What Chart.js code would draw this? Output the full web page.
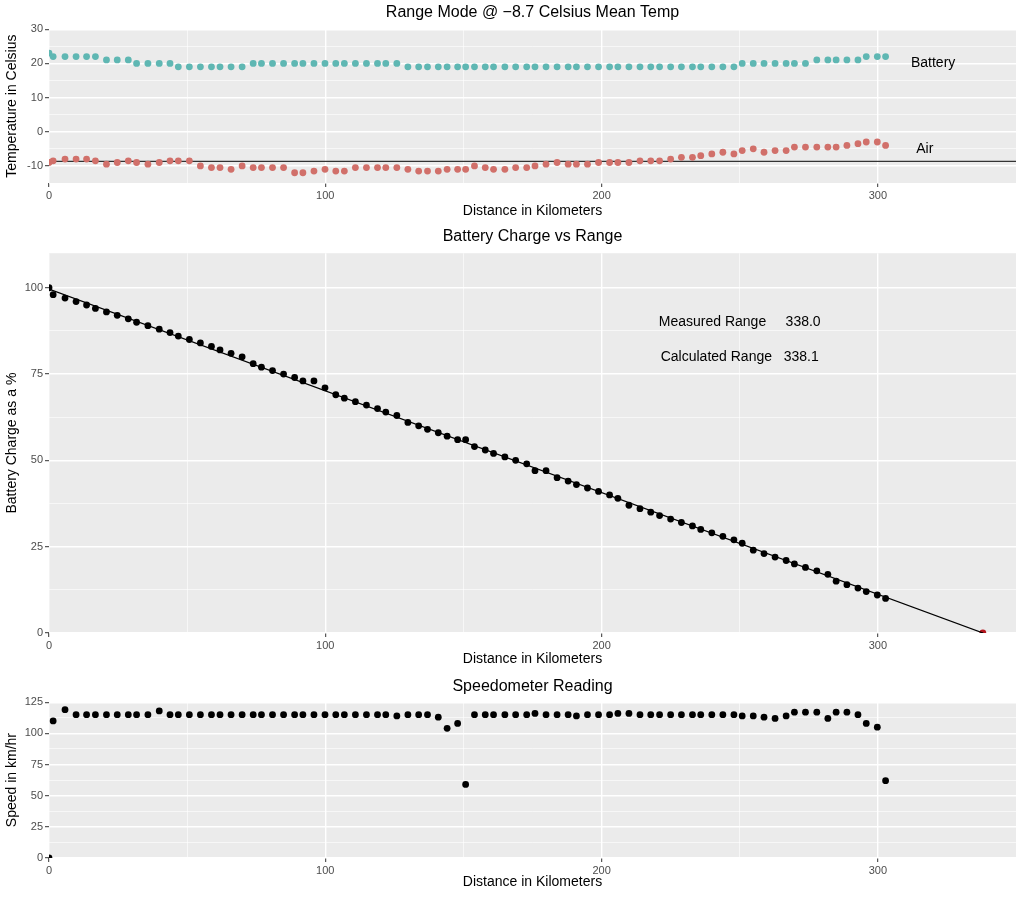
<!DOCTYPE html>
<html>
<head>
<meta charset="utf-8">
<title>Range Mode @ -8.7 Celsius Mean Temp</title>
<script src="https://cdn.jsdelivr.net/npm/chart.js@4.4.1/dist/chart.umd.min.js"></script>
<style>
  html, body { margin: 0; padding: 0; background: #ffffff; }
  .panel { position: absolute; left: 0; width: 1024px; }
</style>
</head>
<body>
<div class="panel" style="top:0;height:222px"><canvas id="chart1"></canvas></div>
<div class="panel" style="top:222px;height:448px"><canvas id="chart2"></canvas></div>
<div class="panel" style="top:670px;height:229px"><canvas id="chart3"></canvas></div>
<script>
// Distancia recorrida en cada lectura (km)
const distanceKm = [
  0, 1.5, 5.8, 9.8, 13.6, 16.8, 20.8, 24.7, 28.7, 31.7,
  35.8, 39.9, 43.8, 46.8, 50.8, 54.8, 58.8, 61.9, 65.9, 69.9,
  73.9, 76.9, 80.9, 84.9, 88.9, 91.9, 95.9, 99.9, 103.8, 106.9,
  110.9, 114.9, 118.9, 121.9, 125.9, 129.9, 133.8, 137, 140.9, 144.1,
  147.9, 150.8, 154, 157.9, 160.9, 165, 168.9, 172.9, 175.9, 179.9,
  183.9, 187.9, 190.9, 194.9, 198.9, 202.9, 205.9, 209.9, 213.9, 217.8,
  221, 225, 228.9, 232.9, 235.9, 239.9, 243.9, 247.9, 250.9, 254.9,
  258.8, 262.8, 266.8, 269.8, 273.8, 277.9, 281.9, 284.9, 288.8, 292.8,
  295.8, 299.8, 302.8,
];

// Temperatura de la bateria (C)
const batteryTemp = [
  23, 22, 22, 22, 22, 22, 21, 21, 21, 20,
  20, 20, 20, 19, 19, 19, 19, 19, 19, 19,
  20, 20, 20, 20, 20, 20, 20, 20, 20, 20,
  20, 20, 20, 20, 20, 19, 19, 19, 19, 19,
  19, 19, 19, 19, 19, 19, 19, 19, 19, 19,
  19, 19, 19, 19, 19, 19, 19, 19, 19, 19,
  19, 19, 19, 19, 19, 19, 19, 19, 20, 20,
  20, 20, 20, 20, 20, 21, 21, 21, 21, 21,
  22, 22, 22,
];

// Temperatura del aire (C)
const airTemp = [
  -9, -8.5, -8, -8, -8, -8.5, -9.5, -9, -8.5, -9,
  -9.5, -9, -8.5, -8.5, -8.5, -10, -10.5, -10.5, -11, -10,
  -10.5, -10.5, -10.5, -10.5, -12, -12, -11.5, -11, -11.5, -11.5,
  -10.5, -10.5, -10.5, -10.5, -10.5, -11, -11.5, -11.5, -11.5, -11,
  -11, -11, -10, -10.5, -11, -11, -10.5, -10.5, -10, -9.5,
  -9, -9.5, -9.5, -9.5, -9, -9, -9, -9, -8.5, -8.5,
  -8.5, -8, -7.5, -7.5, -7, -6.5, -6, -6.5, -5.5, -5,
  -6, -5.5, -5.5, -4.5, -4.5, -4.5, -4.5, -4.5, -4, -3.5,
  -3, -3, -4,
];
const meanAirTemp = -8.7;

// Carga de la bateria (%)
const chargePct = [
  100, 98, 97, 96, 95, 94, 93, 92, 91, 90,
  89, 88, 87, 86, 85, 84, 83, 82, 81, 80,
  78, 77, 76, 75, 74, 73, 73, 71, 69, 68,
  67, 66, 65, 64, 63, 61, 60, 59, 58, 57,
  56, 56, 54, 53, 52, 51, 50, 49, 47, 47,
  45, 44, 43, 42, 41, 40, 39, 37, 36, 35,
  34, 33, 32, 31, 30, 29, 28, 27, 26, 24,
  23, 22, 21, 20, 19, 18, 17, 15, 14, 13,
  12, 11, 10,
];
// Recta ajustada y rango medido
const fitX = [0, 338.1];
const fitY = [99.6, 0];
const measuredRange = 338.0;

// Velocimetro (km/h)
const speedKmh = [
  0, 110, 119, 115, 115, 115, 115, 115, 115, 115,
  115, 118, 115, 115, 115, 115, 115, 115, 115, 115,
  115, 115, 115, 115, 115, 115, 115, 115, 115, 115,
  115, 115, 115, 115, 114, 115, 115, 115, 113, 104,
  108, 59, 115, 115, 115, 115, 115, 115, 116, 115,
  115, 115, 114, 115, 115, 115, 116, 116, 115, 115,
  115, 115, 115, 115, 115, 115, 115, 115, 114, 114,
  113, 112, 114, 117, 117, 117, 112, 117, 117, 115,
  108, 105, 62,
];

// Etiquetas de los ejes
const distTicks = [0, 100, 200, 300];
const distMinor = [50, 150, 250];
const tempTicks = [-10, 0, 10, 20, 30];
const tempMinor = [-15, -5, 5, 15, 25];
const chargeTicks = [0, 25, 50, 75, 100];
const chargeMinor = [12.5, 37.5, 62.5, 87.5];
const speedTicks = [0, 25, 50, 75, 100, 125];
const speedMinor = [12.5, 37.5, 62.5, 87.5, 112.5];

// Textos dentro de los paneles
const tempLabels = ["Battery", "Air"];
const tempLabelX = [320, 317];
const tempLabelY = [20, -5];
const rangeLabels = ["Measured Range     338.0", "Calculated Range   338.1"];
const rangeLabelX = [250, 250];
const rangeLabelY = [90, 80];

const FONT = "'Liberation Sans', Arial, Helvetica, sans-serif";
Chart.defaults.font.family = FONT;
Chart.defaults.animation = false;

function puntos(xs, ys) {
  return xs.map((x, i) => ({ x: x, y: ys[i] }));
}

// Marcas mayores y menores como en ggplot
function setTicks(major, minor) {
  return function (scale) {
    const all = major
      .map((v) => ({ value: v }))
      .concat(minor.map((v) => ({ value: v, minor: true })));
    all.sort((a, b) => a.value - b.value);
    scale.ticks = all;
  };
}

function gridOpts() {
  return {
    color: (c) => (c.tick && c.tick.minor ? "rgba(255,255,255,0.85)" : "#ffffff"),
    lineWidth: (c) => (c.tick && c.tick.minor ? 0.7 : 1.4),
    tickColor: (c) => (c.tick && c.tick.minor ? "rgba(0,0,0,0)" : "#333333"),
    tickWidth: 1,
    tickLength: 4,
    drawTicks: true,
  };
}

function tickOpts() {
  return {
    autoSkip: false,
    maxRotation: 0,
    padding: 2,
    color: "#4d4d4d",
    font: { size: 11 },
    callback: (value, i, ticks) => (ticks[i].minor ? "" : value),
  };
}

function ejeX(height, titlePad) {
  return {
    type: "linear",
    min: 0,
    max: 350,
    afterBuildTicks: setTicks(distTicks, distMinor),
    afterFit: (scale) => { scale.height = height; },
    grid: gridOpts(),
    border: { display: false },
    ticks: tickOpts(),
    title: {
      display: true,
      text: "Distance in Kilometers",
      color: "#000",
      font: { size: 14 },
      padding: { top: 0, bottom: titlePad },
    },
  };
}

function ejeY(min, max, major, minor, label) {
  return {
    type: "linear",
    min: min,
    max: max,
    afterBuildTicks: setTicks(major, minor),
    afterFit: (scale) => { scale.width = 49; },
    grid: gridOpts(),
    border: { display: false },
    ticks: tickOpts(),
    title: {
      display: true,
      text: label,
      color: "#000",
      font: { size: 14 },
      padding: { top: 4, bottom: 0 },
    },
  };
}

// Fondo gris del panel y textos en coordenadas de datos
function panelPlugin(textos, xs, ys) {
  return {
    id: "panel",
    beforeDraw(chart) {
      const a = chart.chartArea;
      const ctx = chart.ctx;
      ctx.save();
      ctx.fillStyle = "#ebebeb";
      ctx.fillRect(a.left, a.top, a.right - a.left, a.bottom - a.top);
      ctx.restore();
    },
    afterDatasetsDraw(chart) {
      const ctx = chart.ctx;
      const sx = chart.scales.x;
      const sy = chart.scales.y;
      ctx.save();
      ctx.font = "14px " + FONT;
      ctx.fillStyle = "#000";
      ctx.textAlign = "center";
      ctx.textBaseline = "middle";
      textos.forEach((t, i) => {
        ctx.fillText(t, sx.getPixelForValue(xs[i]), sy.getPixelForValue(ys[i]));
      });
      ctx.restore();
    },
  };
}

function tituloOpts(text, top, bottom) {
  return {
    display: true,
    text: text,
    fullSize: false,
    color: "#000",
    font: { size: 16, weight: "normal" },
    padding: { top: top, bottom: bottom },
  };
}

const puntoBase = { showLine: false, pointRadius: 3.4, pointBorderWidth: 0, pointHoverRadius: 3.4 };

// Grafica 1: temperaturas
new Chart(document.getElementById("chart1"), {
  type: "scatter",
  data: {
    datasets: [
      Object.assign({ label: "Battery", data: puntos(distanceKm, batteryTemp), pointBackgroundColor: "#5fb7b3" }, puntoBase),
      Object.assign({ label: "Air", data: puntos(distanceKm, airTemp), pointBackgroundColor: "#d1706a" }, puntoBase),
      {
        label: "Mean",
        type: "line",
        data: [{ x: 0, y: meanAirTemp }, { x: 350, y: meanAirTemp }],
        borderColor: "#333333",
        borderWidth: 1.3,
        pointRadius: 0,
      },
    ],
  },
  options: {
    responsive: true,
    maintainAspectRatio: false,
    events: [],
    layout: { padding: { left: 0, right: 8, top: 0, bottom: 0 } },
    plugins: {
      legend: { display: false },
      tooltip: { enabled: false },
      title: tituloOpts("Range Mode @ \u22128.7 Celsius Mean Temp", 3, 7),
    },
    scales: {
      x: ejeX(39, 2.6),
      y: ejeY(-15, 30, tempTicks, tempMinor, "Temperature in Celsius"),
    },
  },
  plugins: [panelPlugin(tempLabels, tempLabelX, tempLabelY)],
});

// Grafica 2: carga contra distancia
new Chart(document.getElementById("chart2"), {
  type: "scatter",
  data: {
    datasets: [
      {
        label: "Fit",
        type: "line",
        data: puntos(fitX, fitY),
        borderColor: "#000000",
        borderWidth: 1.3,
        pointRadius: 0,
      },
      Object.assign({ label: "Charge", data: puntos(distanceKm, chargePct), pointBackgroundColor: "#000000" }, puntoBase),
      Object.assign({ label: "Range", data: [{ x: measuredRange, y: 0 }], pointBackgroundColor: "#b3141c" }, puntoBase),
    ],
  },
  options: {
    responsive: true,
    maintainAspectRatio: false,
    events: [],
    layout: { padding: { left: 0, right: 8, top: 0, bottom: 0 } },
    plugins: {
      legend: { display: false },
      tooltip: { enabled: false },
      title: tituloOpts("Battery Charge vs Range", 5, 7),
    },
    scales: {
      x: ejeX(37, 2.6),
      y: ejeY(0, 110, chargeTicks, chargeMinor, "Battery Charge as a %"),
    },
  },
  plugins: [panelPlugin(rangeLabels, rangeLabelX, rangeLabelY)],
});

// Grafica 3: velocimetro
new Chart(document.getElementById("chart3"), {
  type: "scatter",
  data: {
    datasets: [
      Object.assign({ label: "Speed", data: puntos(distanceKm, speedKmh), pointBackgroundColor: "#000000" }, puntoBase),
    ],
  },
  options: {
    responsive: true,
    maintainAspectRatio: false,
    events: [],
    layout: { padding: { left: 0, right: 8, top: 0, bottom: 0 } },
    plugins: {
      legend: { display: false },
      tooltip: { enabled: false },
      title: tituloOpts("Speedometer Reading", 7, 6),
    },
    scales: {
      x: ejeX(41, 8.3),
      y: ejeY(0, 125, speedTicks, speedMinor, "Speed in km/hr"),
    },
  },
  plugins: [panelPlugin([], [], [])],
});
</script>
</body>
</html>
